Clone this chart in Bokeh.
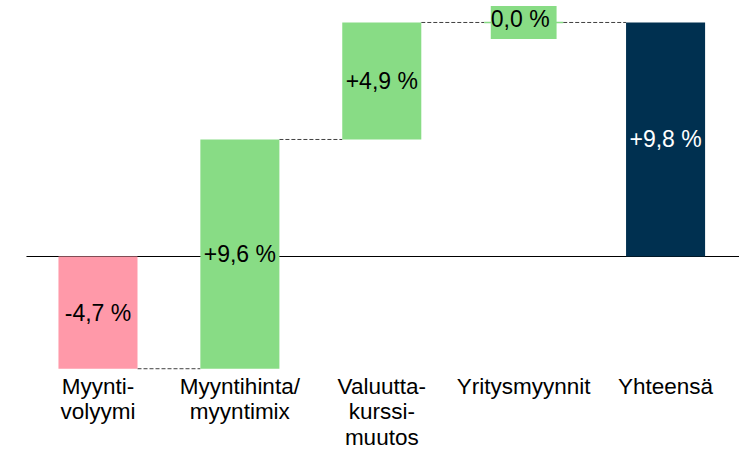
import numpy as np
from bokeh.plotting import figure
from bokeh.models import Range1d, ColumnDataSource
from bokeh.core.properties import value
from bokeh.embed import file_html
from bokeh.resources import INLINE

categories = ["Myynti-\nvolyymi", "Myyntihinta/\nmyyntimix", "Valuutta-\nkurssi-\nmuutos", "Yritysmyynnit", "Yhteensä"]
changes = [-4.7, 9.6, 4.9, 0.0]
total = 9.8

GREEN = "#88DC85"
PINK = "#FF99A9"
NAVY = "#003050"
FONT = "Liberation Sans"
FS = "23px"
CAT_FS = "22.5px"

def fmt(v):
    s = f"{v:+.1f}"
    if abs(v) < 1e-9:
        s = f"{abs(v):.1f}"
    return s.replace(".", ",") + " %"

n = len(changes)
xs = np.arange(n + 1)
ends = np.cumsum(changes)
starts = np.concatenate([[0.0], ends[:-1]])
bar_w = 0.557

bottoms = list(np.minimum(starts, ends)) + [0.0]
tops = list(np.maximum(starts, ends)) + [total]
colors = [GREEN if c >= 0 else PINK for c in changes] + [NAVY]
labels = [fmt(c) for c in changes] + [fmt(total)]
mids = [(b + t) / 2 for b, t in zip(bottoms, tops)]
label_colors = ["black"] * n + ["white"]

p = figure(width=739, height=451, output_backend="svg", toolbar_location=None,
           x_range=Range1d(-0.687, 4.521), y_range=Range1d(-8.166, 10.72),
           min_border=0, outline_line_color=None)
p.axis.visible = False
p.grid.visible = False
p.background_fill_color = "white"

# baseline axis line
p.segment(x0=[-0.504], y0=[0], x1=[4.521], y1=[0], line_color="black", line_width=1.2)

# connectors
cx0 = xs[:-1] + bar_w / 2
cx1 = xs[1:] - bar_w / 2
p.segment(x0=cx0, y0=ends, x1=cx1, y1=ends, line_color="#404040", line_width=1, line_dash="4 2")

nonzero = [i for i in range(n + 1) if abs(tops[i] - bottoms[i]) > 1e-9]
zero = [i for i in range(n + 1) if abs(tops[i] - bottoms[i]) <= 1e-9]

src = ColumnDataSource(dict(x=[xs[i] for i in nonzero], b=[bottoms[i] for i in nonzero],
                            t=[tops[i] for i in nonzero], c=[colors[i] for i in nonzero]))
p.vbar(x="x", bottom="b", top="t", width=bar_w, fill_color="c", line_color=None, source=src)

# zero bars
for i in zero:
    p.segment(x0=[xs[i] - bar_w / 2], y0=[tops[i]], x1=[xs[i] + bar_w / 2], y1=[tops[i]],
              line_color=colors[i], line_width=1.5)

# value labels
nz_lab = ColumnDataSource(dict(x=[xs[i] for i in nonzero], y=[mids[i] for i in nonzero],
                               t=[labels[i] for i in nonzero], c=[label_colors[i] for i in nonzero]))
p.text(x="x", y="y", text="t", text_color="c", source=nz_lab, text_align="center",
       text_baseline="middle", text_font=value(FONT), text_font_size=FS)
for i in zero:
    p.text(x=[xs[i]], y=[tops[i]], text=[labels[i]], text_color="black", text_align="center",
           text_baseline="middle", text_font=value(FONT), text_font_size=FS,
           background_fill_color=GREEN, padding=(0, 7, 0, 7))

# category labels
ymin = min(bottoms)
p.text(x=xs, y=[ymin] * (n + 1), text=categories, text_align="center", text_baseline="top",
       y_offset=5, text_font=value(FONT), text_font_size=CAT_FS, text_color="black",
       text_line_height=1.02)

open("out.html", "w").write(file_html(p, INLINE))
